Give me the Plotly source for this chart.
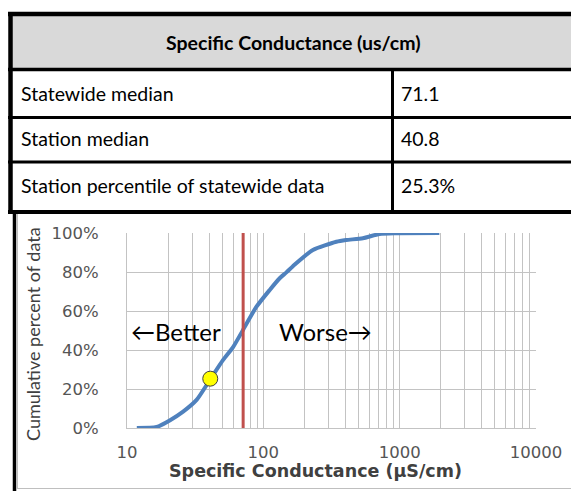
import plotly.graph_objects as go

W, H = 571, 491

# ---------------- data ----------------
table_title = "Specific Conductance (us/cm)"
table_labels = ["Statewide median", "Station median", "Station percentile of statewide data"]
table_values = ["71.1", "40.8", "25.3%"]

statewide_median = 71.1
station_median = 40.8
station_percentile = 0.253

sc_values = [11.8, 16.5, 20.7, 25.8, 32.4, 40.5, 50.7, 60.0, 71.0, 89.1, 111.4,
             131.8, 147.6, 164.9, 231, 343, 405, 537, 711, 942, 1954]
cum_pct = [0.0, 0.005, 0.04, 0.084, 0.144, 0.246, 0.349, 0.415, 0.503, 0.622, 0.708,
           0.768, 0.798, 0.830, 0.913, 0.955, 0.964, 0.973, 0.995, 0.999, 1.0]

x_major = [10, 100, 1000, 10000]
x_major_labels = ["10", "100", "1000", "10000"]
y_ticks = [0, 0.2, 0.4, 0.6, 0.8, 1.0]
y_tick_labels = ["0%", "20%", "40%", "60%", "80%", "100%"]

x_title = "Specific Conductance (\u00b5S/cm)"
y_title = "Cumulative percent of data"
better_text = "\u2190Better"
worse_text = "Worse\u2192"

# ---------------- helpers ----------------
def px(x):
    return x / W

def py(y):
    return 1 - y / H

CAL = "Lato, 'Open Sans', sans-serif"
VER = "'DejaVu Sans', Verdana, sans-serif"

# gridline ticks: all 1..9 multiples per decade
x_tickvals = []
x_ticktext = []
for d in x_major[:-1]:
    for m in range(1, 10):
        v = d * m
        x_tickvals.append(v)
        x_ticktext.append(x_major_labels[x_major.index(d)] if m == 1 else "")
x_tickvals.append(x_major[-1])
x_ticktext.append(x_major_labels[-1])

fig = go.Figure()

fig.add_trace(go.Scatter(
    x=sc_values, y=cum_pct, mode="lines",
    line=dict(color="#4f81bd", width=4, shape="spline", smoothing=0.6),
    hoverinfo="skip", showlegend=False))

fig.add_trace(go.Scatter(
    x=[statewide_median, statewide_median], y=[0, 1], mode="lines",
    line=dict(color="#c0504d", width=3), hoverinfo="skip", showlegend=False))

fig.add_trace(go.Scatter(
    x=[station_median], y=[station_percentile], mode="markers",
    marker=dict(color="#ffff00", size=15, line=dict(color="#404040", width=1)),
    hoverinfo="skip", showlegend=False))

grid_c = "#c3c3c3"
fig.update_layout(
    width=W, height=H, autosize=False, showlegend=False,
    margin=dict(l=0, r=0, t=0, b=0, pad=0, autoexpand=False),
    paper_bgcolor="white", plot_bgcolor="white",
    xaxis=dict(
        type="log", range=[1, 4], domain=[px(127), px(536)],
        tickvals=x_tickvals, ticktext=x_ticktext, automargin=False,
        showgrid=True, gridcolor=grid_c, gridwidth=1,
        showline=True, linecolor=grid_c, linewidth=1, mirror=False,
        zeroline=False, ticks="", ticklabelstandoff=9,
        tickfont=dict(family=VER, size=16.5, color="#555555"),
        fixedrange=True,
    ),
    yaxis=dict(
        range=[0, 1], domain=[py(428), py(233)], automargin=False,
        tickvals=y_ticks, ticktext=y_tick_labels,
        showgrid=True, gridcolor=grid_c, gridwidth=1,
        showline=True, linecolor=grid_c, linewidth=1,
        zeroline=False, ticks="", ticklabelstandoff=24,
        tickfont=dict(family=VER, size=16.5, color="#555555"),
        fixedrange=True,
    ),
)

shapes = []
def line(x0, y0, x1, y1, w, c="black"):
    shapes.append(dict(type="line", xref="paper", yref="paper",
                       x0=px(x0), y0=py(y0), x1=px(x1), y1=py(y1),
                       line=dict(color=c, width=w), layer="above"))

# header fill
shapes.append(dict(type="rect", xref="paper", yref="paper",
                   x0=px(12), x1=px(575), y0=py(68), y1=py(16),
                   fillcolor="#d9d9d9", line=dict(width=0), layer="below"))
# table borders
line(8, 14, 575, 14, 4.5)
line(10.5, 12, 10.5, 214, 4.5)
line(8, 69.5, 575, 69.5, 3.5)
line(8, 117.5, 575, 117.5, 3)
line(8, 162, 575, 162, 3)
line(8, 212, 575, 212, 4)
line(392.5, 69, 392.5, 212, 3)
# chart frame
line(14.5, 212, 14.5, 491, 3.5)
line(17.5, 214, 17.5, 488.5, 1, "#bfbfbf")
line(17, 488.5, 575, 488.5, 1, "#bfbfbf")

fig.update_layout(shapes=shapes)

ann = []
ann.append(dict(text="<b>" + table_title + "</b>", x=px(293), y=py(42),
                xref="paper", yref="paper", showarrow=False,
                font=dict(family=CAL, size=19.5, color="black"),
                xanchor="center", yanchor="middle"))
row_y = [93, 139, 185]
for lab, val, yy in zip(table_labels, table_values, row_y):
    ann.append(dict(text=lab, x=px(19), y=py(yy), xref="paper", yref="paper",
                    showarrow=False, font=dict(family=CAL, size=19.5, color="black"),
                    xanchor="left", yanchor="middle"))
    ann.append(dict(text=val, x=px(399), y=py(yy), xref="paper", yref="paper",
                    showarrow=False, font=dict(family=CAL, size=19.5, color="black"),
                    xanchor="left", yanchor="middle"))

ann.append(dict(text="<b>" + x_title + "</b>", x=px(315), y=py(471),
                xref="paper", yref="paper", showarrow=False,
                font=dict(family=VER, size=17.5, color="#404040"),
                xanchor="center", yanchor="middle"))
ann.append(dict(text=y_title, x=px(33), y=py(334), xref="paper", yref="paper",
                showarrow=False, textangle=-90,
                font=dict(family=CAL, size=18, color="#404040"),
                xanchor="center", yanchor="middle"))
ann.append(dict(text=better_text, x=px(176), y=py(331), xref="paper", yref="paper",
                showarrow=False, font=dict(family=CAL, size=24, color="black"),
                xanchor="center", yanchor="middle"))
ann.append(dict(text=worse_text, x=px(325), y=py(331), xref="paper", yref="paper",
                showarrow=False, font=dict(family=CAL, size=24, color="black"),
                xanchor="center", yanchor="middle"))
fig.update_layout(annotations=ann)

fig.write_html("out.html", config={"displayModeBar": False},
               post_script="document.body.style.margin='0';document.body.style.overflow='hidden';")
